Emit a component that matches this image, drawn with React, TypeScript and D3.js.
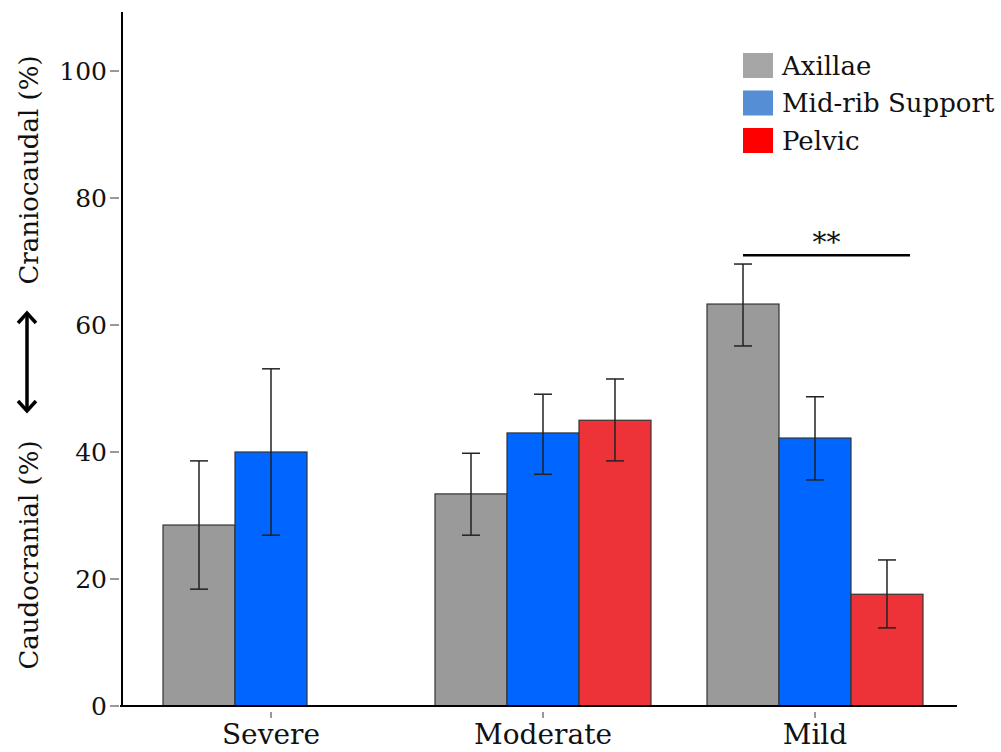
import React from 'react'
import * as d3 from 'd3'

const categories = ['Severe', 'Moderate', 'Mild']
const seriesNames = ['Axillae', 'Mid-rib Support', 'Pelvic']
const barColors = ['#9a9a9a', '#0066ff', '#ee3338']
const legendColors = ['#a6a6a6', '#558ed5', '#ff0000']

// mean values per category (null = no bar)
const axillae = [28.5, 33.4, 63.3]
const midRib = [40.0, 43.0, 42.2]
const pelvic = [null, 45.0, 17.6]
// error bar bounds
const axillaeLow = [18.4, 26.9, 56.7]
const axillaeHigh = [38.6, 39.8, 69.6]
const midRibLow = [26.9, 36.5, 35.6]
const midRibHigh = [53.1, 49.1, 48.7]
const pelvicLow = [null, 38.6, 12.3]
const pelvicHigh = [null, 51.5, 23.0]

const yTicks = [0, 20, 40, 60, 80, 100]

const FONT = 'DejaVu Serif'

const App = () => {
  const width = 1001
  const height = 752

  const y = d3.scaleLinear().domain([0, 100]).range([706, 71])
  const x = d3
    .scaleBand()
    .domain(categories)
    .range([135, 951])
    .paddingInner(0.206)
    .paddingOuter(0.103)
  const xs = d3.scaleBand().domain(seriesNames).range([0, x.bandwidth()])

  const series = [
    { name: seriesNames[0], vals: axillae, lo: axillaeLow, hi: axillaeHigh },
    { name: seriesNames[1], vals: midRib, lo: midRibLow, hi: midRibHigh },
    { name: seriesNames[2], vals: pelvic, lo: pelvicLow, hi: pelvicHigh }
  ]

  const bars = []
  const errs = []
  series.forEach((s, si) => {
    categories.forEach((c, ci) => {
      const v = s.vals[ci]
      if (v == null) return
      const bx = x(c) + xs(s.name)
      bars.push(
        <rect
          key={'b' + si + ci}
          x={bx}
          y={y(v)}
          width={xs.bandwidth()}
          height={y(0) - y(v)}
          fill={barColors[si]}
          stroke="#333"
          strokeWidth={1.2}
        />
      )
      const cx = bx + xs.bandwidth() / 2
      errs.push(
        <g key={'e' + si + ci} stroke="#222" strokeWidth={1.5}>
          <line x1={cx} x2={cx} y1={y(s.lo[ci])} y2={y(s.hi[ci])} />
          <line x1={cx - 9} x2={cx + 9} y1={y(s.lo[ci])} y2={y(s.lo[ci])} />
          <line x1={cx - 9} x2={cx + 9} y1={y(s.hi[ci])} y2={y(s.hi[ci])} />
        </g>
      )
    })
  })

  // significance bracket between Mild Axillae and Mild Pelvic
  const sigY = y(71)
  const sigX1 = x('Mild') + xs('Axillae') + xs.bandwidth() / 2
  const sigX2 = x('Mild') + xs('Pelvic') + xs.bandwidth() * 0.82

  return (
    <svg width={width} height={height} style={{ position: 'absolute', left: 0, top: 0 }}>
      <rect width={width} height={height} fill="#fff" />
      {bars}
      {errs}

      {/* y axis */}
      <line x1={122} x2={122} y1={12} y2={707} stroke="#000" strokeWidth={2} />
      {yTicks.map(t => (
        <g key={t}>
          <line x1={110} x2={119} y1={y(t)} y2={y(t)} stroke="#333" strokeWidth={1} />
          <text
            x={107}
            y={y(t)}
            dy="0.36em"
            textAnchor="end"
            fontFamily={FONT}
            fontSize={25}
            fill="#111"
          >
            {t}
          </text>
        </g>
      ))}

      {/* x axis */}
      <line x1={120} x2={957} y1={706} y2={706} stroke="#000" strokeWidth={2.2} />
      {categories.map(c => (
        <g key={c}>
          <line
            x1={x(c) + x.bandwidth() / 2}
            x2={x(c) + x.bandwidth() / 2}
            y1={712}
            y2={718}
            stroke="#333"
            strokeWidth={1}
          />
          <text
            x={x(c) + x.bandwidth() / 2}
            y={744}
            textAnchor="middle"
            fontFamily={FONT}
            fontSize={28}
            fill="#111"
          >
            {c}
          </text>
        </g>
      ))}

      {/* significance */}
      <line x1={sigX1} x2={sigX2} y1={sigY} y2={sigY} stroke="#000" strokeWidth={2.5} />
      <text
        x={(sigX1 + sigX2) / 2}
        y={sigY - 3}
        textAnchor="middle"
        fontFamily={FONT}
        fontSize={28}
        fill="#111"
      >
        **
      </text>

      {/* y labels */}
      <text
        transform="translate(38,170) rotate(-90)"
        textAnchor="middle"
        fontFamily={FONT}
        fontSize={26}
        fill="#111"
      >
        Craniocaudal (%)
      </text>
      <text
        transform="translate(38,555) rotate(-90)"
        textAnchor="middle"
        fontFamily={FONT}
        fontSize={26}
        fill="#111"
      >
        Caudocranial (%)
      </text>
      <g stroke="#000" strokeWidth={3.5} fill="none">
        <line x1={27} x2={27} y1={313} y2={411} />
        <polyline points="18,323 27,313 36,323" />
        <polyline points="18,401 27,411 36,401" />
      </g>

      {/* legend */}
      {seriesNames.map((n, i) => (
        <g key={n} transform={`translate(743,${53 + i * 37.5})`}>
          <rect width={30} height={25} fill={legendColors[i]} />
          <text x={39} y={12.5} dy="0.36em" fontFamily={FONT} fontSize={26} fill="#111">
            {n}
          </text>
        </g>
      ))}
    </svg>
  )
}

export default App
